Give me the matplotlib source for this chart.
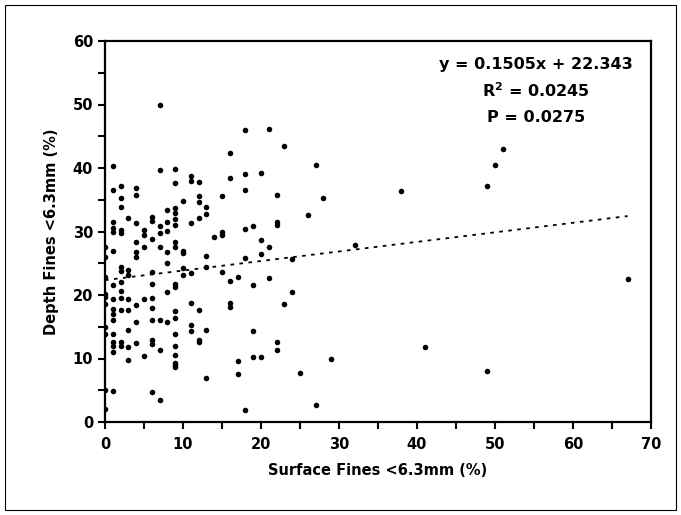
import numpy as np
import matplotlib.pyplot as plt
from matplotlib.patches import Rectangle
from matplotlib.ticker import MultipleLocator

# surface fines (%) -> list of depth fines (%) read for each surface value
depth_by_surface = {
    0: [27.6, 26.0, 22.9, 20.1, 19.7, 18.6, 15.0, 13.8, 5.0, 2.0],
    1: [40.3, 36.5, 31.5, 30.6, 29.9, 27.0, 21.6, 19.4, 17.8, 17.0, 16.1, 13.8, 12.6, 12.0, 11.1, 4.9],
    2: [37.1, 35.2, 33.9, 30.2, 29.7, 24.4, 23.8, 22.0, 20.6, 19.6, 17.6, 12.6, 12.0],
    3: [32.2, 23.9, 23.1, 19.4, 17.7, 14.5, 11.8, 9.8],
    4: [36.9, 35.7, 31.4, 28.4, 26.7, 26.0, 18.5, 15.8, 12.4],
    5: [30.2, 29.5, 27.5, 19.3, 10.4],
    6: [32.3, 31.6, 28.8, 23.7, 21.8, 19.6, 17.9, 16.0, 12.9, 12.3, 4.7],
    7: [50.0, 39.7, 30.8, 29.7, 27.5, 16.1, 11.4, 3.4],
    8: [33.4, 31.5, 30.1, 26.7, 25.1, 20.5, 15.8],
    9: [39.8, 37.7, 33.7, 32.9, 31.9, 31.1, 28.3, 27.5, 21.8, 21.3, 17.5, 16.3, 13.8, 11.9, 10.5, 9.3, 9.0, 8.6],
    10: [34.8, 27.0, 26.6, 24.2, 23.1],
    11: [38.7, 38.0, 31.4, 23.4, 18.7, 15.3, 14.3],
    12: [37.8, 35.6, 34.7, 32.1, 17.6, 12.9, 12.6],
    13: [33.9, 32.7, 26.1, 24.4, 14.5, 7.0],
    14: [29.1],
    15: [35.6, 30.0, 29.4, 23.7],
    16: [42.4, 38.5, 22.2, 18.7, 18.1],
    17: [22.9, 9.6, 7.6],
    18: [46.0, 39.1, 36.6, 30.4, 25.8, 1.9],
    19: [30.8, 21.6, 14.3, 10.2],
    20: [39.2, 28.6, 26.4, 10.3],
    21: [46.1, 27.5, 22.7],
    22: [35.7, 31.5, 31.1, 12.6, 11.3],
    23: [43.5, 18.6],
    24: [25.7, 20.5],
    25: [7.7],
    26: [32.6],
    27: [40.4, 2.7],
    28: [35.2],
    29: [9.9],
    32: [27.8],
    38: [36.3],
    41: [11.8],
    49: [37.1, 8.1],
    50: [40.5],
    51: [43.0],
    67: [22.5],
}

surface = []
depth = []
for sx, vals in depth_by_surface.items():
    for v in vals:
        surface.append(sx)
        depth.append(v)

slope = 0.1505
intercept = 22.343
eq_lines = ["y = 0.1505x + 22.343", "R$^2$ = 0.0245", "P = 0.0275"]

plt.rcParams['font.family'] = 'DejaVu Sans'
plt.rcParams['font.weight'] = 'bold'

fig = plt.figure(figsize=(6.81, 5.15), dpi=100)
ax = fig.add_axes([105/681, 1 - 422/515, (651 - 105)/681, (422 - 41)/515])

ax.scatter(surface, depth, s=16, color='black', zorder=3, linewidths=0)

# linear trendline
xfit = np.array([0, max(surface)])
ax.plot(xfit, slope*xfit + intercept, color='black', linestyle=(0, (2, 3)), linewidth=1.3)

ax.set_xlim(0, 70)
ax.set_ylim(0, 60)
ax.xaxis.set_major_locator(MultipleLocator(10))
ax.xaxis.set_minor_locator(MultipleLocator(5))
ax.yaxis.set_major_locator(MultipleLocator(10))
ax.yaxis.set_minor_locator(MultipleLocator(5))
ax.tick_params(which='both', direction='out', length=5, width=1.5, labelsize=10.5)
ax.tick_params(axis='x', pad=6)
for sp in ax.spines.values():
    sp.set_linewidth(1.6)

ax.set_xlabel("Surface Fines <6.3mm (%)", fontsize=10.5, fontweight='bold', labelpad=8)
ax.set_ylabel("Depth Fines <6.3mm (%)", fontsize=10.5, fontweight='bold', labelpad=10)

for i, t in enumerate(eq_lines):
    fig.text(536/681, 1 - (64 + 27*i)/515, t, ha='center', va='center',
             fontsize=11.5, fontweight='bold')

fig.patches.append(Rectangle((5/681, 5/515), 671/681, 505/515, transform=fig.transFigure,
                             fill=False, edgecolor='black', linewidth=0.8))

fig.savefig("out.png", dpi=100)
